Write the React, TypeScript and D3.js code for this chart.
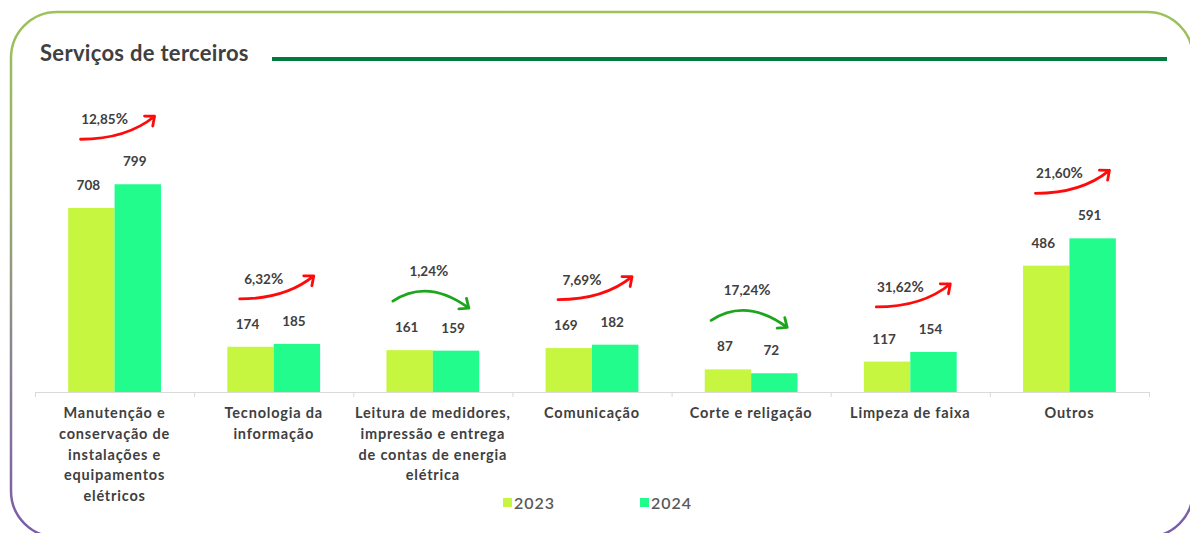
import React from "react";
import * as d3 from "d3";

const categories: string[][] = [
  ["Manutenção e", "conservação de", "instalações e", "equipamentos", "elétricos"],
  ["Tecnologia da", "informação"],
  ["Leitura de medidores,", "impressão e entrega", "de contas de energia", "elétrica"],
  ["Comunicação"],
  ["Corte e religação"],
  ["Limpeza de faixa"],
  ["Outros"],
];
const values2023: number[] = [708, 174, 161, 169, 87, 117, 486];
const values2024: number[] = [799, 185, 159, 182, 72, 154, 591];
const changeLabels: string[] = ["12,85", "6,32", "1,24", "7,69", "17,24", "31,62", "21,60"];
const seriesNames: string[] = ["2023", "2024"];

const W = 1190;
const H = 533;
const FONT = "Lato, 'Open Sans', sans-serif";
const TEXT = "#404040";
const C2023 = "#c6f640";
const C2024 = "#21fc8c";
const RED = "#ff0a0a";
const GREEN = "#1ea51e";

function arrowPath(s: [number, number], c: [number, number], e: [number, number]) {
  const p = d3.path();
  p.moveTo(s[0], s[1]);
  p.quadraticCurveTo(c[0], c[1], e[0], e[1]);
  const ang = Math.atan2(e[1] - c[1], e[0] - c[0]);
  const L = 10;
  const spread = 0.7;
  p.moveTo(e[0] - L * Math.cos(ang - spread), e[1] - L * Math.sin(ang - spread));
  p.lineTo(e[0], e[1]);
  p.lineTo(e[0] - L * Math.cos(ang + spread), e[1] - L * Math.sin(ang + spread));
  return p.toString();
}

export default function App() {
  const x0 = d3.scaleBand<number>().domain(d3.range(categories.length)).range([35, 1149]).paddingInner(0).paddingOuter(0);
  const x1 = d3.scaleBand<number>().domain([0, 1]).range([0, x0.bandwidth()]).paddingInner(0).paddingOuter(0.715);
  const y = d3.scaleLinear().domain([0, 1000]).range([392, 132]);
  const base = y(0);
  const ticks = d3.range(categories.length + 1).map((i) => 35 + i * x0.step());

  return (
    <svg width={W} height={H} style={{ position: "absolute", left: 0, top: 0, background: "#fff" }} fontFamily={FONT}>
      <defs>
        <linearGradient id="border" x1="0" y1="0" x2="0" y2="1">
          <stop offset="0" stopColor="#9cc25a" />
          <stop offset="0.35" stopColor="#97ad6a" />
          <stop offset="0.6" stopColor="#8c8a8c" />
          <stop offset="1" stopColor="#7a5aaa" />
        </linearGradient>
      </defs>
      <rect x={11} y={12} width={1182} height={525} rx={46} ry={46} fill="#fff" stroke="url(#border)" strokeWidth={2.5} />
      <text x={40} y={61} fontSize={22} fontWeight={700} letterSpacing={0.3} fill={TEXT}>Serviços de terceiros</text>
      <line x1={272} x2={1167} y1={59} y2={59} stroke="#007a3d" strokeWidth={4} />

      {/* axis */}
      <line x1={35} x2={1149} y1={base + 0.5} y2={base + 0.5} stroke="#d9d9d9" strokeWidth={1} />
      {ticks.map((t, i) => (
        <line key={i} x1={t + 0.5} x2={t + 0.5} y1={base} y2={base + 5} stroke="#d9d9d9" strokeWidth={1} />
      ))}

      {categories.map((lines, i) => {
        const gx = x0(i)!;
        const cx = gx + x0.bandwidth() / 2;
        const vals = [values2023[i], values2024[i]];
        const top = y(Math.max(...vals));
        const up = vals[1] >= vals[0];
        const color = up ? RED : GREEN;
        let arrow: string;
        let tx: number;
        let ty: number;
        if (up) {
          arrow = arrowPath([cx - 34, top - 45], [cx + 12, top - 45], [cx + 40, top - 68]);
          tx = cx - 10;
          ty = top - 60;
        } else {
          arrow = arrowPath([cx - 40, top - 49], [cx - 5, top - 72], [cx + 36, top - 42]);
          tx = cx - 4;
          ty = top - 74;
        }
        return (
          <g key={i}>
            {vals.map((v, j) => (
              <g key={j}>
                <rect x={gx + x1(j)!} y={y(v)} width={x1.bandwidth()} height={base - y(v)} fill={j === 0 ? C2023 : C2024} />
                <text x={gx + x1(j)! + x1.bandwidth() / 2 - 3} y={y(v) - 18} textAnchor="middle" fontSize={13.5} fontWeight={700} fill={TEXT}>{v}</text>
              </g>
            ))}
            <path d={arrow} fill="none" stroke={color} strokeWidth={2.8} strokeLinecap="round" strokeLinejoin="round" />
            <text x={tx} y={ty} textAnchor="middle" fontSize={13.5} fontWeight={700} fill={TEXT}>
              {changeLabels[i]}<tspan fontSize={15}>%</tspan>
            </text>
            {lines.map((ln, k) => (
              <text key={k} x={cx} y={418 + k * 20.8} textAnchor="middle" fontSize={14.5} fontWeight={700} letterSpacing={0.8} fill={TEXT}>{ln}</text>
            ))}
          </g>
        );
      })}

      {/* legend */}
      {seriesNames.map((s, i) => (
        <g key={s} transform={`translate(${503 + i * 137},0)`}>
          <rect x={0} y={498} width={9} height={9} fill={i === 0 ? C2023 : C2024} />
          <text x={11} y={509} fontSize={16} fontWeight={600} letterSpacing={1} fill="#595959">{s}</text>
        </g>
      ))}
    </svg>
  );
}
